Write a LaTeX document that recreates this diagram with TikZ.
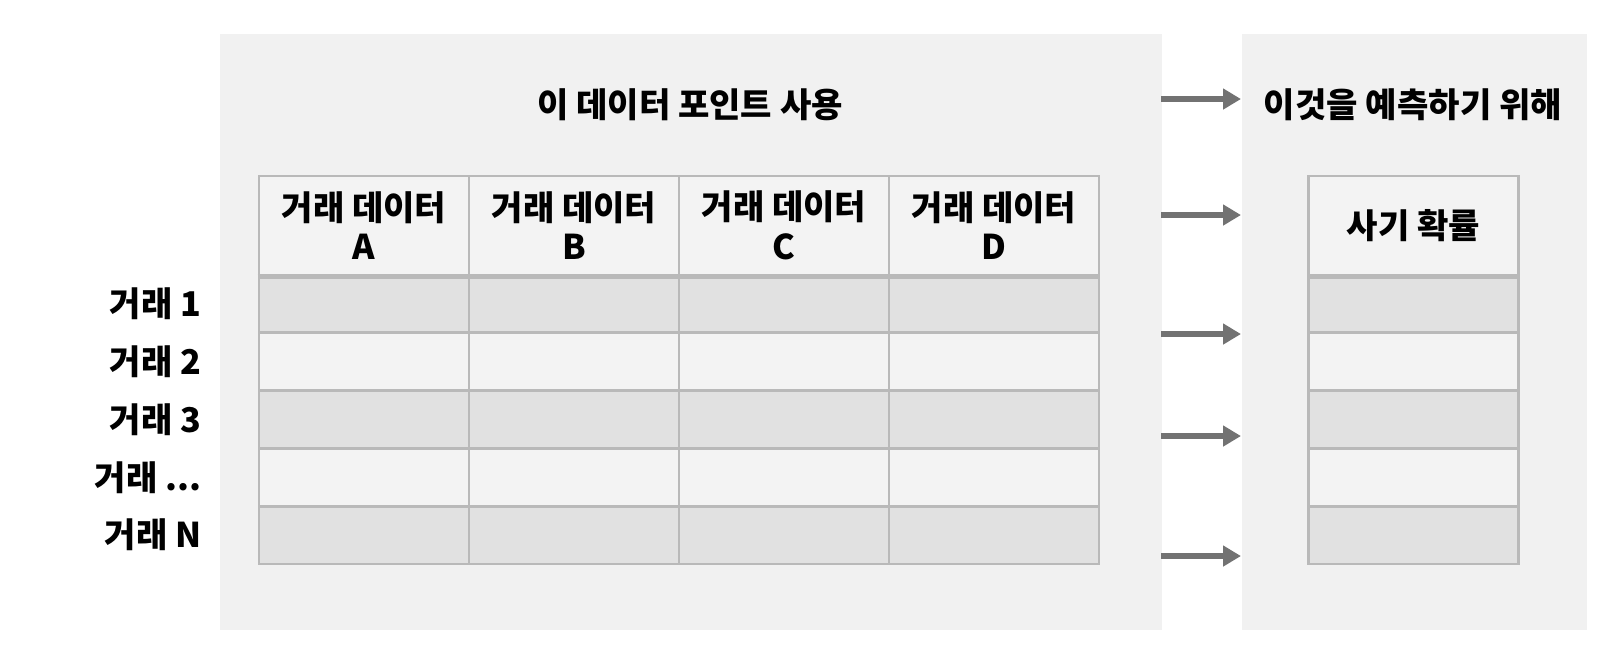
\documentclass[tikz,border=0pt]{standalone}
\usepackage{fontspec}
\setmainfont{Noto Sans CJK KR}
\usetikzlibrary{arrows.meta}

\definecolor{panelgray}{HTML}{F1F1F1}
\definecolor{cellgray}{HTML}{E1E1E1}
\definecolor{cellwhite}{HTML}{F3F3F3}
\definecolor{gridgray}{HTML}{B9B9B9}
\definecolor{arrowgray}{HTML}{727272}

\tikzset{
  panel/.style={fill=panelgray, draw=none, anchor=north west, inner sep=0pt},
  label text/.style={font=\fontsize{9.7}{12}\selectfont\bfseries, text=black},
  headcell/.style={draw=gridgray, line width=0.8pt, fill=cellwhite, minimum width=2.1cm,
    minimum height=0.99cm, inner sep=0pt, align=center, label text,
    font=\fontsize{9.7}{11.3}\selectfont\bfseries},
  shade/.style={draw=gridgray, line width=0.8pt, fill=cellgray, minimum width=2.1cm,
    minimum height=0.578cm, inner sep=0pt},
  plain/.style={shade, fill=cellwhite},
  flow/.style={draw=arrowgray, line width=1.7pt, -{Triangle[length=0.18cm,width=0.2cm]}}
}

\begin{document}
\begin{tikzpicture}[x=0.01cm, y=-0.01cm]
\useasboundingbox (0,0) rectangle (1606,656);

% 두 개의 배경 패널
\node[panel, minimum width=9.42cm, minimum height=5.96cm] (usepanel) at (219,33) {};
\node[panel, minimum width=3.45cm, minimum height=5.96cm] (predpanel) at (1241,33) {};

% 제목
\node[label text] (usetitle) at (690,105) {이 데이터 포인트 사용};
\node[label text] (predtitle) at (1413,105) {이것을 예측하기 위해};

% 왼쪽 표: 머리글
\foreach \l [count=\i] in {A,B,C,D}
  \node[headcell] (head\l) at ({364+210*(\i-1)},225.5) {거래 데이터\\\l};

% 왼쪽 표: 행과 행 이름
\foreach \r/\s/\t in {1/shade/1,2/plain/2,3/shade/3,4/plain/{...},5/shade/N}{
  \node[label text, anchor=east, inner sep=0pt] (row\r) at (202,{303.9+57.8*(\r-1)}) {거래 \t};
  \foreach \l [count=\i] in {A,B,C,D}
    \node[\s] (cell\r\l) at ({364+210*(\i-1)},{303.9+57.8*(\r-1)}) {};
  \node[\s] (prob\r) at (1413.5,{303.9+57.8*(\r-1)}) {};
}

% 오른쪽 표: 머리글
\node[headcell] (probhead) at (1413.5,225.5) {사기 확률};

% 머리글 아래 굵은 선
\draw[gridgray, line width=1.4pt] (headA.south west) -- (headD.south east);
\draw[gridgray, line width=1.4pt] (probhead.south west) -- (probhead.south east);

% 패널 사이 화살표
\foreach \y [count=\k] in {99,215,334,436,556}{
  \coordinate (from\k) at (1161,\y);
  \coordinate (to\k) at (1241,\y);
  \draw[flow] (from\k) -- (to\k);
}

\end{tikzpicture}
\end{document}
